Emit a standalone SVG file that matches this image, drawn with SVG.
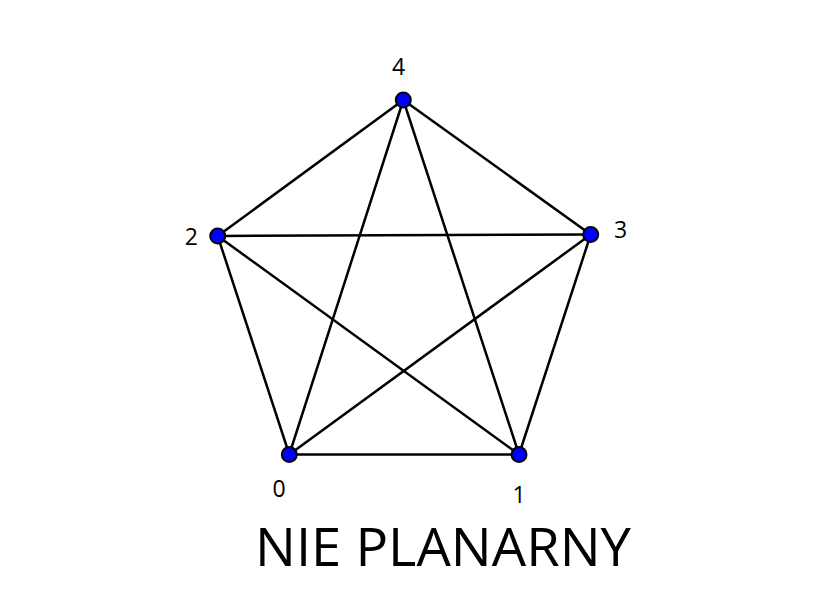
<svg xmlns="http://www.w3.org/2000/svg" width="833" height="608" viewBox="0 0 833 608">
<style>
.e{stroke:#000;stroke-width:2.5;fill:none;stroke-linecap:round}
.n{fill:#0000ff;stroke:#000;stroke-width:2}
.l{font-family:"Open Sans","Liberation Sans",sans-serif;font-size:23px;fill:#000;text-anchor:middle}
.t{font-family:"Open Sans","Liberation Sans",sans-serif;font-size:53px;fill:#000}
</style>
<rect width="833" height="608" fill="#fff"/>
<g id="edges">
<line class="e" x1="403.3" y1="100" x2="217.7" y2="236"/>
<line class="e" x1="403.3" y1="100" x2="590.7" y2="234.5"/>
<line class="e" x1="403.3" y1="100" x2="289.3" y2="454.5"/>
<line class="e" x1="403.3" y1="100" x2="519" y2="454.5"/>
<line class="e" x1="217.7" y1="236" x2="590.7" y2="234.5"/>
<line class="e" x1="217.7" y1="236" x2="289.3" y2="454.5"/>
<line class="e" x1="217.7" y1="236" x2="519" y2="454.5"/>
<line class="e" x1="590.7" y1="234.5" x2="289.3" y2="454.5"/>
<line class="e" x1="590.7" y1="234.5" x2="519" y2="454.5"/>
<line class="e" x1="289.3" y1="454.5" x2="519" y2="454.5"/>
</g>
<g id="node4"><circle class="n" cx="403.3" cy="100" r="7.5"/><text class="l" x="398.5" y="75">4</text></g>
<g id="node2"><circle class="n" cx="217.7" cy="236" r="7.5"/><text class="l" x="191.3" y="245">2</text></g>
<g id="node3"><circle class="n" cx="590.7" cy="234.5" r="7.5"/><text class="l" x="620.5" y="238">3</text></g>
<g id="node0"><circle class="n" cx="289.3" cy="454.5" r="7.5"/><text class="l" x="279" y="497">0</text></g>
<g id="node1"><circle class="n" cx="519" cy="454.5" r="7.5"/><text class="l" x="519" y="503">1</text></g>
<text class="t" x="255" y="566" textLength="376" lengthAdjust="spacingAndGlyphs">NIE PLANARNY</text>
</svg>
